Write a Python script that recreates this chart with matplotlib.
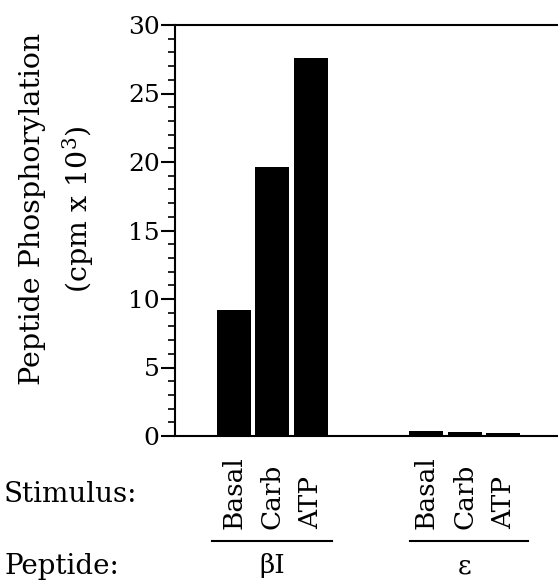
import matplotlib
matplotlib.use("Agg")
import matplotlib.pyplot as plt
import matplotlib.transforms as mtransforms
from matplotlib.ticker import MultipleLocator

plt.rcParams['font.family'] = 'DejaVu Serif'
plt.rcParams['mathtext.fontset'] = 'dejavuserif'

# data
stimuli = ["Basal", "Carb", "ATP"]
peptides = ["\u03b2I", "\u03b5"]
beta_values = [9.2, 19.6, 27.6]
eps_values = [0.35, 0.3, 0.2]
yticks = [0, 5, 10, 15, 20, 25, 30]

W, H = 558, 581
fig = plt.figure(figsize=(W / 100, H / 100), dpi=100)
ax = fig.add_axes([175 / W, 1 - 436 / H, 1 - 175 / W, (436 - 25) / H])

beta_x = [0, 1, 2]
eps_x = [5, 6, 7]
ax.bar(beta_x, beta_values, width=0.88, color='black')
ax.bar(eps_x, eps_values, width=0.88, color='black')

ax.set_xlim(-1.53, 8.42)
ax.set_ylim(0, 30)
ax.set_xticks([])
ax.set_yticks(yticks)
ax.set_yticklabels([str(t) for t in yticks], fontsize=18)
ax.yaxis.set_minor_locator(MultipleLocator(1))
ax.tick_params(axis='y', which='major', direction='out', length=10, width=1.5, pad=1)
ax.tick_params(axis='y', which='minor', direction='out', length=5, width=1.2)
ax.spines['right'].set_visible(False)
for s in ['left', 'top', 'bottom']:
    ax.spines[s].set_linewidth(1.5)

# y label, two lines
fig.text(33 / W, 1 - 209 / H, "Peptide Phosphorylation", rotation=90,
         ha='center', va='center', fontsize=20.5)
fig.text(78 / W, 1 - 209 / H, "(cpm x 10$^3$)", rotation=90,
         ha='center', va='center', fontsize=20.5)

# stimulus labels under each bar
trans = mtransforms.blended_transform_factory(ax.transData, fig.transFigure)
for xs in (beta_x, eps_x):
    for x, name in zip(xs, stimuli):
        ax.text(x, 1 - 529 / H, name, rotation=90, ha='center', va='bottom',
                fontsize=19, transform=trans)

# peptide group lines and labels
groups = [(beta_x, -0.57, 2.55), (eps_x, 4.57, 7.64)]
for (xs, x0, x1), pep in zip(groups, peptides):
    ax.plot([x0, x1], [1 - 541 / H, 1 - 541 / H], color='black', lw=1.5,
            transform=trans, clip_on=False)
    ax.text(sum(xs) / len(xs), 1 - 566 / H, pep, ha='center', va='center',
            fontsize=19, transform=trans)

fig.text(4 / W, 1 - 494 / H, "Stimulus:", ha='left', va='center', fontsize=20)
fig.text(4 / W, 1 - 566 / H, "Peptide:", ha='left', va='center', fontsize=20)

fig.savefig("out.png", dpi=100)
